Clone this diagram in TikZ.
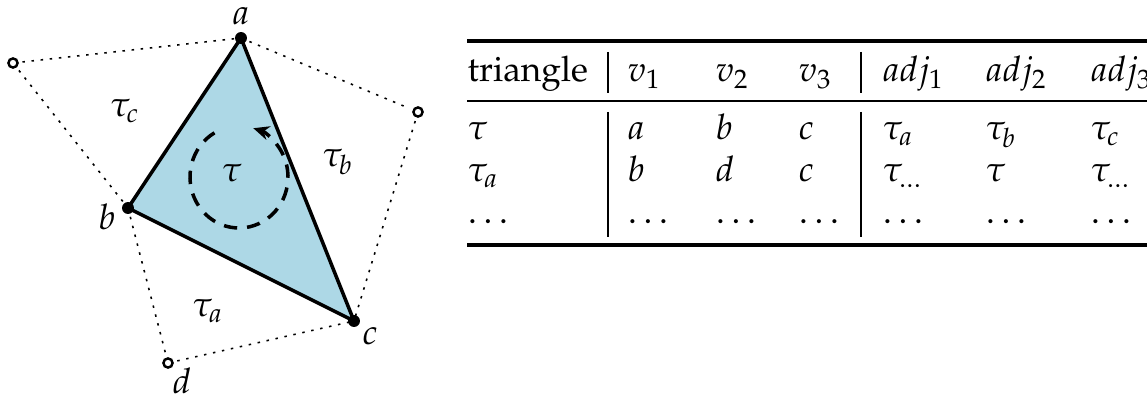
\documentclass[tikz,border=0pt]{standalone}
\usepackage[T1]{fontenc}
\usepackage{mathpazo}
\usetikzlibrary{arrows.meta}
\definecolor{trifill}{RGB}{173,216,230}
\begin{document}
\begin{tikzpicture}[x=0.2841pt,y=0.2841pt,
  dot/.style={circle,fill=black,inner sep=0pt,minimum size=3.4pt},
  odot/.style={circle,draw=black,line width=0.7pt,fill=white,inner sep=0pt,minimum size=2.6pt,outer sep=1.4pt},
  edge/.style={line width=1pt,line join=round},
  dotline/.style={line width=0.45pt,dash pattern=on 0.7pt off 1.9pt},
  lbl/.style={inner sep=0pt,anchor=base},
  cell/.style={inner sep=0pt,anchor=base west},
  heavyrule/.style={line width=1pt},
  lightrule/.style={line width=0.6pt},
  vbar/.style={line width=0.45pt}]
\useasboundingbox (0,0) rectangle (1147,401);
\clip (0,0) rectangle (1147,401);
% vertices
\coordinate (a) at (241,363);
\coordinate (b) at (128,193);
\coordinate (c) at (354,80);
\node[odot] (p) at (13,338) {};
\node[odot] (q) at (418,289) {};
\node[odot] (d) at (168,38) {};
% triangle
\filldraw[fill=trifill,edge] (a) -- (b) -- (c) -- cycle;
% neighbours
\draw[dotline] (p) -- (a);
\draw[dotline] (p) -- (b);
\draw[dotline] (a) -- (q);
\draw[dotline] (q) -- (c);
\draw[dotline] (b) -- (d);
\draw[dotline] (d) -- (c);
\node[dot] (adot) at (a) {};
\node[dot] (bdot) at (b) {};
\node[dot] (cdot) at (c) {};
% orientation
\coordinate (tc) at (239,224);
\draw[line width=1pt,dash pattern=on 3.8pt off 2.8pt,-{Stealth[length=4.5pt,width=4pt]}]
  (tc) ++({49*cos(120)},{51*sin(120)}) arc[start angle=120,end angle=433,x radius=49,y radius=51];
% labels
\node[lbl] (la) at (241,376) {$a$};
\node[lbl] (lb) at (107,171) {$b$};
\node[lbl] (lc) at (370,56) {$c$};
\node[lbl] (ld) at (182,8) {$d$};
\node[lbl] (ltc) at (125,284) {$\tau_c$};
\node[lbl] (ltb) at (338,234) {$\tau_b$};
\node[lbl] (lta) at (208,84) {$\tau_a$};
\node[lbl] (lt) at (232,219) {$\tau$};
% table rules
\draw[heavyrule] (467,360) -- (1160,360);
\draw[lightrule] (467,300) -- (1160,300);
\draw[heavyrule] (467,156) -- (1160,156);
\draw[vbar] (608,349) -- (608,308);
\draw[vbar] (608,289) -- (608,164);
\draw[vbar] (861,349) -- (861,308);
\draw[vbar] (861,289) -- (861,164);
% header
\node[cell] (h0) at (467,319) {triangle};
\node[cell] (h1) at (627,319) {$v_1$};
\node[cell] (h2) at (715,319) {$v_2$};
\node[cell] (h3) at (798,319) {$v_3$};
\node[cell] (h4) at (882,319) {$adj_1$};
\node[cell] (h5) at (985,319) {$adj_2$};
\node[cell] (h6) at (1090,319) {$adj_3$};
% row 1
\node[cell] (r10) at (467,261) {$\tau$};
\node[cell] (r11) at (627,261) {$a$};
\node[cell] (r12) at (715,261) {$b$};
\node[cell] (r13) at (798,261) {$c$};
\node[cell] (r14) at (882,261) {$\tau_a$};
\node[cell] (r15) at (985,261) {$\tau_b$};
\node[cell] (r16) at (1090,261) {$\tau_c$};
% row 2
\node[cell] (r20) at (467,219) {$\tau_a$};
\node[cell] (r21) at (627,219) {$b$};
\node[cell] (r22) at (715,219) {$d$};
\node[cell] (r23) at (798,219) {$c$};
\node[cell] (r24) at (882,219) {$\tau_{\dots}$};
\node[cell] (r25) at (985,219) {$\tau$};
\node[cell] (r26) at (1090,219) {$\tau_{\dots}$};
% row 3
\node[cell] (r30) at (467,177) {$\dots$};
\node[cell] (r31) at (627,177) {$\dots$};
\node[cell] (r32) at (715,177) {$\dots$};
\node[cell] (r33) at (798,177) {$\dots$};
\node[cell] (r34) at (882,177) {$\dots$};
\node[cell] (r35) at (985,177) {$\dots$};
\node[cell] (r36) at (1090,177) {$\dots$};
\end{tikzpicture}
\end{document}
